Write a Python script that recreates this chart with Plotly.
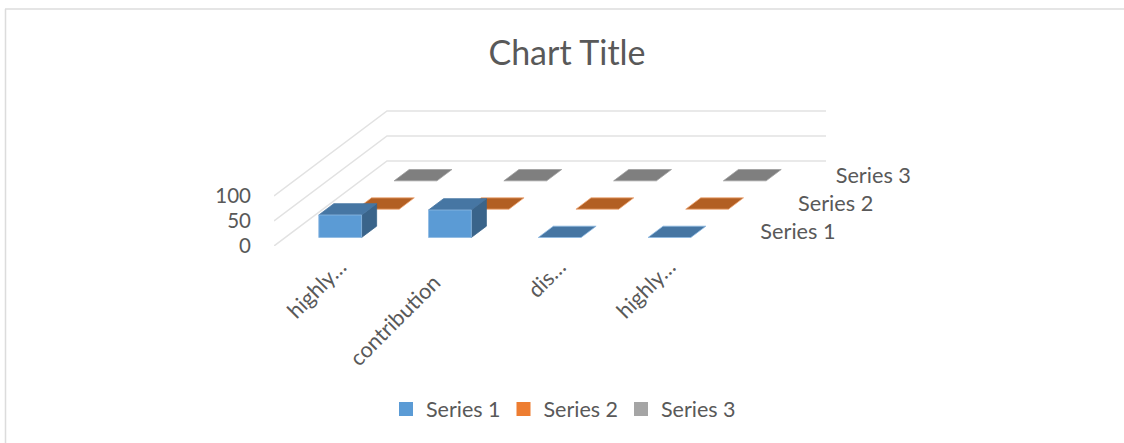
import plotly.graph_objects as go

categories = ["highly…", "contribution", "dis…", "highly…"]
series_names = ["Series 1", "Series 2", "Series 3"]
series_1 = [45, 55, 0, 0]
series_2 = [0, 0, 0, 0]
series_3 = [0, 0, 0, 0]
value_ticks = [0, 50, 100]

front_colors = ["#5B9BD5", "#ED7D31", "#A5A5A5"]
top_colors = ["#4676A3", "#B25F23", "#7F7F7F"]
side_colors = ["#3A648A", "#8E4C1C", "#666666"]
edge_colors = ["#8DB9E2", "#F0A877", "#A0A0A0"]
label_padding = [0, 4, 0, 0]      # no-break spaces that nudge a slanted label along its baseline
text_color = "#595959"
grid_color = "#E2E2E2"
FONT = "Lato, Carlito, Calibri, sans-serif"

W, H = 1124, 443
L, R, T, B = 274, 1000, 100, 246  # plot rectangle in pixels
PX_PER_CAT = 109.75
PX_PER_VAL = 0.5
FULL_DX = 113 / PX_PER_CAT        # oblique shift of the whole floor depth
FULL_DY = 85 / PX_PER_VAL
BAR_W = 0.39
BAR_D = 0.40


def project(cat, depth, value):
    """Oblique projection: category, depth 0..1 and value -> axis coordinates."""
    return cat + depth * FULL_DX, value + depth * FULL_DY


def poly(corners, color, edge):
    pts = [project(*c) for c in corners]
    pts.append(pts[0])
    return go.Scatter(
        x=[p[0] for p in pts], y=[p[1] for p in pts], mode="lines", fill="toself",
        fillcolor=color, line=dict(color=edge, width=0.8),
        hoverinfo="skip", showlegend=False, cliponaxis=False,
    )


fig = go.Figure()

# walls: value gridlines along the side and back
for v in value_ticks:
    a = project(0, 0, v)
    b = project(0, 1, v)
    c = project(len(categories), 1, v)
    fig.add_trace(go.Scatter(
        x=[a[0], b[0], c[0]], y=[a[1], b[1], c[1]], mode="lines",
        line=dict(color=grid_color, width=1.5), hoverinfo="skip",
        showlegend=False, cliponaxis=False,
    ))

all_series = [series_1, series_2, series_3]
n = len(all_series)
for s in reversed(range(n)):
    slot = 1 / n
    d0 = (s + 0.5) * slot - BAR_D * slot / 2
    d1 = d0 + BAR_D * slot
    for i, val in enumerate(all_series[s]):
        x0 = i + 0.5 - BAR_W / 2
        x1 = x0 + BAR_W
        if val > 0:
            fig.add_trace(poly([(x1, d0, 0), (x1, d1, 0), (x1, d1, val), (x1, d0, val)],
                               side_colors[s], side_colors[s]))
        fig.add_trace(poly([(x0, d0, val), (x1, d0, val), (x1, d1, val), (x0, d1, val)],
                           top_colors[s], edge_colors[s] if val == 0 else top_colors[s]))
        if val > 0:
            fig.add_trace(poly([(x0, d0, 0), (x1, d0, 0), (x1, d0, val), (x0, d0, val)],
                               front_colors[s], edge_colors[s]))

# depth axis labels
label_pts = [project(len(categories) + 0.26, (s + 0.5) / n, -4) for s in range(n)]
fig.add_trace(go.Scatter(
    x=[p[0] for p in label_pts], y=[p[1] for p in label_pts], mode="text",
    text=series_names, textposition="middle right",
    textfont=dict(family=FONT, size=21.7, color=text_color),
    hoverinfo="skip", showlegend=False, cliponaxis=False,
))

# legend entries
for name, color in zip(series_names, front_colors):
    fig.add_trace(go.Scatter(
        x=[None], y=[None], mode="markers", name=name,
        marker=dict(symbol="square", size=14, color=color),
    ))

tick_pos = [project(i + 0.5, 0.1, 0)[0] for i in range(len(categories))]
tick_text = [c + "\u00a0" * p for c, p in zip(categories, label_padding)]

fig.update_layout(
    width=W, height=H,
    margin=dict(l=L, r=W - R, t=T, b=H - B, autoexpand=False),
    paper_bgcolor="white", plot_bgcolor="rgba(0,0,0,0)",
    font=dict(family=FONT, color=text_color, size=20),
    title=dict(text="Chart Title", x=567 / W, xref="container", xanchor="center",
               y=1 - 53 / H, yref="container", yanchor="middle",
               font=dict(family=FONT, size=34, color=text_color)),
    xaxis=dict(range=[0, (R - L) / PX_PER_CAT], tickmode="array", tickvals=tick_pos,
               ticktext=tick_text, tickangle=-45, showgrid=False, zeroline=False,
               showline=False, ticks="", ticklabelstandoff=3,
               tickfont=dict(family=FONT, size=21.7, color=text_color)),
    yaxis=dict(range=[0, (B - T) / PX_PER_VAL], tickmode="array", tickvals=value_ticks,
               showgrid=False, zeroline=False, showline=False, ticks="",
               ticklabelstandoff=22,
               tickfont=dict(family=FONT, size=20.5, color=text_color)),
    legend=dict(orientation="h", xref="container", yref="container",
                x=386 / W, xanchor="left", y=1 - 409 / H, yanchor="middle",
                entrywidth=72.5, entrywidthmode="pixels",
                font=dict(family=FONT, size=21.5, color=text_color),
                bgcolor="rgba(0,0,0,0)"),
    shapes=[
        dict(type="line", xref="paper", yref="paper", line=dict(color="#DCDCDC", width=1.5),
             x0=(5.5 - L) / (R - L), x1=(5.5 - L) / (R - L),
             y0=(B - 9) / (B - T), y1=(B - H) / (B - T)),
        dict(type="line", xref="paper", yref="paper", line=dict(color="#DCDCDC", width=1.5),
             x0=(5 - L) / (R - L), x1=(W - L) / (R - L),
             y0=(B - 9) / (B - T), y1=(B - 9) / (B - T)),
    ],
)

fig.write_html("out.html", config={"displayModeBar": False},
               post_script="document.body.style.margin='0';document.documentElement.style.overflow='hidden';")
